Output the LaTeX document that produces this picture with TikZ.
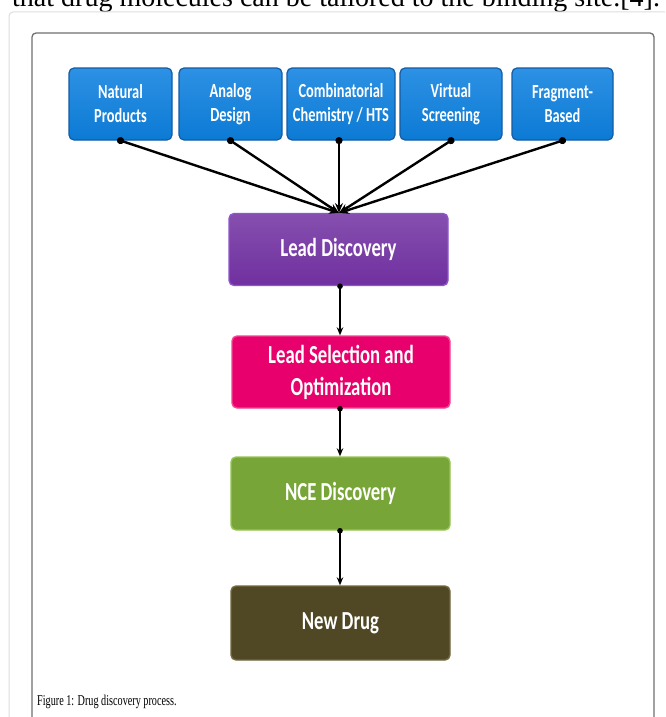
\documentclass[tikz,border=0pt]{standalone}
\usepackage{fontspec}
\setmainfont{Carlito}
\newfontfamily\boxfont[FakeStretch=0.72]{Carlito}
\newfontfamily\capfont[FakeStretch=0.68]{Liberation Serif}
\newfontfamily\topfont{Liberation Serif}
\usetikzlibrary{arrows.meta}
\definecolor{blueF}{RGB}{12,122,212}
\definecolor{blueT}{RGB}{45,145,228}
\definecolor{blueD}{RGB}{18,92,165}
\definecolor{purF}{RGB}{112,48,160}
\definecolor{purD}{RGB}{142,86,205}
\definecolor{pinkF}{RGB}{232,0,108}
\definecolor{pinkD}{RGB}{245,70,145}
\definecolor{grnF}{RGB}{120,165,55}
\definecolor{grnD}{RGB}{150,198,82}
\definecolor{brnF}{RGB}{80,72,36}
\definecolor{brnD}{RGB}{115,105,62}
\definecolor{frameD}{RGB}{112,112,112}
\definecolor{frameL}{RGB}{222,222,222}
\begin{document}
\begin{tikzpicture}[x=1pt,y=-1pt,
  srcbox/.style={rectangle, rounded corners=5pt, draw=blueD, line width=1.2pt,
    top color=blueT, bottom color=blueF, text=white, align=center,
    minimum height=72pt, inner sep=0pt,
    font=\boxfont\bfseries\fontsize{20}{24}\selectfont},
  stagebox/.style={rectangle, rounded corners=5pt, line width=1.4pt,
    text=white, align=center, minimum width=219pt, minimum height=72pt, inner sep=0pt,
    font=\boxfont\bfseries\fontsize{26}{32}\selectfont},
  fanarrow/.style={line width=2.4pt, black, {Circle[length=7pt]}-{Stealth[length=10pt,width=8pt]}, shorten <=-3.5pt},
  vertarrow/.style={line width=1.5pt, black, {Circle[length=5.5pt]}-{Stealth[length=8pt,width=6.5pt]}, shorten <=-2.7pt}
]
\useasboundingbox (0,0) rectangle (665,717);
\clip (0,0) rectangle (665,717);
\fill[white] (0,0) rectangle (665,717);

% page text line, cut at the top
\node[anchor=base west, inner sep=0pt, font=\topfont\fontsize{28}{32}\selectfont] (toptext) at (12,7) {that drug molecules can be tailored to the binding site.[4].};

% frames
\draw[frameL, line width=1pt, rounded corners=4pt] (9,730) -- (9,12) -- (680,12);
\draw[frameD, line width=1.3pt, rounded corners=4pt] (32,730) -- (32,33) -- (654,33) -- (654,730);

% top boxes
\node[srcbox, minimum width=103pt] (np) at (120.5,104) {Natural\\Products};
\node[srcbox, minimum width=103pt] (ad) at (230.5,104) {Analog\\Design};
\node[srcbox, minimum width=108pt] (cc) at (341,104) {Combinatorial\\Chemistry / HTS};
\node[srcbox, minimum width=102pt] (vs) at (451,104) {Virtual\\Screening};
\node[srcbox, minimum width=101pt] (fb) at (562.5,104) {Fragment-\\Based};

% stages
\node[stagebox, draw=purD, top color=purF!85!white, bottom color=purF] (ld) at (338.5,249.5) {Lead Discovery};
\node[stagebox, draw=pinkD, fill=pinkF, minimum width=218pt] (ls) at (341,372) {Lead Selection and\\Optimization};
\node[stagebox, draw=grnD, fill=grnF, minimum height=73pt] (nce) at (340.5,493.5) {NCE Discovery};
\node[stagebox, draw=brnD, fill=brnF, minimum height=74pt] (nd) at (340.5,623) {New Drug};

% fan-in arrows
\coordinate (conv) at (339,213);
\draw[fanarrow] (np.south) -- (conv);
\draw[fanarrow] (ad.south) -- (conv);
\draw[fanarrow] (cc.south -| conv) -- (conv);
\draw[fanarrow] (vs.south) -- (conv);
\draw[fanarrow] (fb.south) -- (conv);

% vertical arrows
\draw[vertarrow] (ld.south -| 340,0) -- (ls.north -| 340,0);
\draw[vertarrow] (ls.south -| 340,0) -- (nce.north -| 340,0);
\draw[vertarrow] (nce.south -| 340,0) -- (nd.north -| 340,0);

% caption
\node[anchor=base west, inner sep=0pt, font=\capfont\fontsize{15}{18}\selectfont] (cap) at (37,705) {Figure 1: Drug discovery process.};
\end{tikzpicture}
\end{document}
